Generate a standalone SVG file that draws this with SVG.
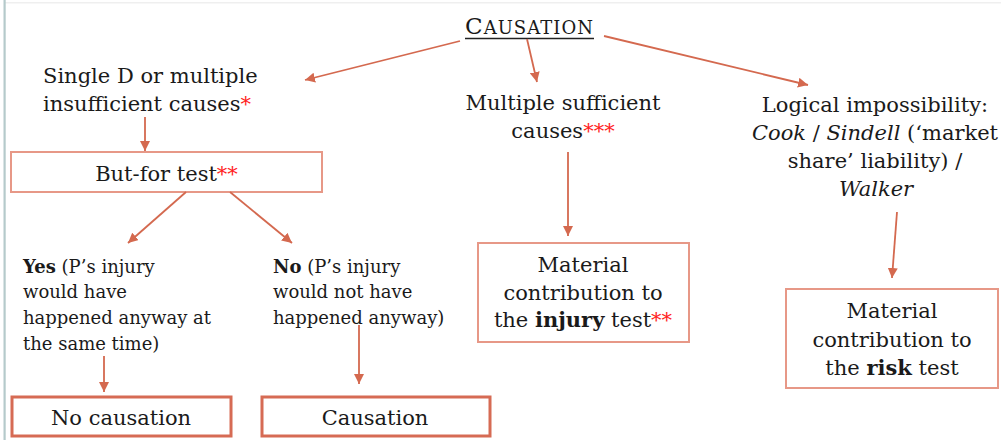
<svg xmlns="http://www.w3.org/2000/svg" width="1001" height="440" viewBox="0 0 1001 440">
<style>
text{font-family:"DejaVu Serif","Liberation Serif",serif;fill:#1a1a1a;}
.m{font-size:21px;}
.s{font-size:18px;}
.c{text-anchor:middle;}
.b{font-weight:bold;}
.i{font-style:italic;}
.r{fill:#ff1f1f;}
.box{fill:#fff;stroke:#e79887;stroke-width:2;}
.boxT{fill:#fff;stroke:#d66b54;stroke-width:3;}
.con line{stroke:#d4694f;stroke-width:1.8;marker-end:url(#ah);}
</style>
<defs>
<marker id="ah" viewBox="0 0 10 10" refX="10" refY="5" markerUnits="userSpaceOnUse" markerWidth="10" markerHeight="10" orient="auto">
<path d="M0,0 L10,5 L0,10 z" fill="#d4694f"/>
</marker>
</defs>
<rect width="1001" height="440" fill="#fff"/>
<rect x="5" y="2" width="996" height="1.5" fill="#efefef"/>
<rect x="3.5" y="0" width="2.2" height="440" fill="#b5cacb"/>

<g id="title">
<text x="529" y="34" class="c" textLength="128" lengthAdjust="spacing"><tspan font-size="23">C</tspan><tspan font-size="18">AUSATION</tspan></text>
<line x1="465" y1="38.5" x2="594" y2="38.5" stroke="#222" stroke-width="1.4"/>
</g>

<g id="single">
<text class="m" x="43" y="83">Single D or multiple</text>
<text class="m" x="43" y="111">insufficient causes<tspan class="r">*</tspan></text>
</g>

<g id="butfor">
<rect class="box" x="11" y="152" width="311" height="40"/>
<text class="m c" x="166.5" y="181">But-for test<tspan class="r">**</tspan></text>
</g>

<g id="yes">
<text class="s" x="23" y="273"><tspan class="b">Yes</tspan> (P’s injury</text>
<text class="s" x="23" y="298">would have</text>
<text class="s" x="23" y="324">happened anyway at</text>
<text class="s" x="23" y="350">the same time)</text>
</g>

<g id="no">
<text class="s" x="273" y="273"><tspan class="b">No</tspan> (P’s injury</text>
<text class="s" x="273" y="298">would not have</text>
<text class="s" x="273" y="324">happened anyway)</text>
</g>

<g id="nocausation">
<rect class="boxT" x="12" y="397" width="219" height="39"/>
<text class="m c" x="121" y="425">No causation</text>
</g>

<g id="causation">
<rect class="boxT" x="262" y="397" width="228" height="39"/>
<text class="m c" x="375" y="425">Causation</text>
</g>

<g id="multiple">
<text class="m c" x="563" y="110">Multiple sufficient</text>
<text class="m c" x="563" y="138">causes<tspan class="r">***</tspan></text>
</g>

<g id="injury">
<rect class="box" x="478" y="243" width="211" height="99"/>
<text class="m c" x="583" y="272">Material</text>
<text class="m c" x="583" y="300">contribution to</text>
<text class="m c" x="583" y="327">the <tspan class="b">injury</tspan> test<tspan class="r">**</tspan></text>
</g>

<g id="logical">
<text class="m c" x="875" y="112">Logical impossibility:</text>
<text class="m c" x="875" y="140"><tspan class="i">Cook</tspan> / <tspan class="i">Sindell</tspan> (‘market</text>
<text class="m c" x="875" y="168">share’ liability) /</text>
<text class="m c i" x="876" y="196">Walker</text>
</g>

<g id="risk">
<rect class="box" x="786" y="289" width="212" height="99"/>
<text class="m c" x="892" y="318">Material</text>
<text class="m c" x="892" y="347">contribution to</text>
<text class="m c" x="892" y="375">the <tspan class="b">risk</tspan> test</text>
</g>

<g id="connectors" class="con">
<line x1="460" y1="41" x2="305" y2="80"/>
<line x1="527" y1="39" x2="537" y2="82"/>
<line x1="604" y1="36" x2="808" y2="85"/>
<line x1="145" y1="117" x2="145" y2="151"/>
<line x1="186" y1="192" x2="128" y2="243"/>
<line x1="230" y1="192" x2="292" y2="243"/>
<line x1="104" y1="356" x2="104" y2="392"/>
<line x1="359" y1="325" x2="359" y2="384"/>
<line x1="568" y1="152" x2="568" y2="236"/>
<line x1="897" y1="212" x2="892" y2="278"/>
</g>
</svg>
